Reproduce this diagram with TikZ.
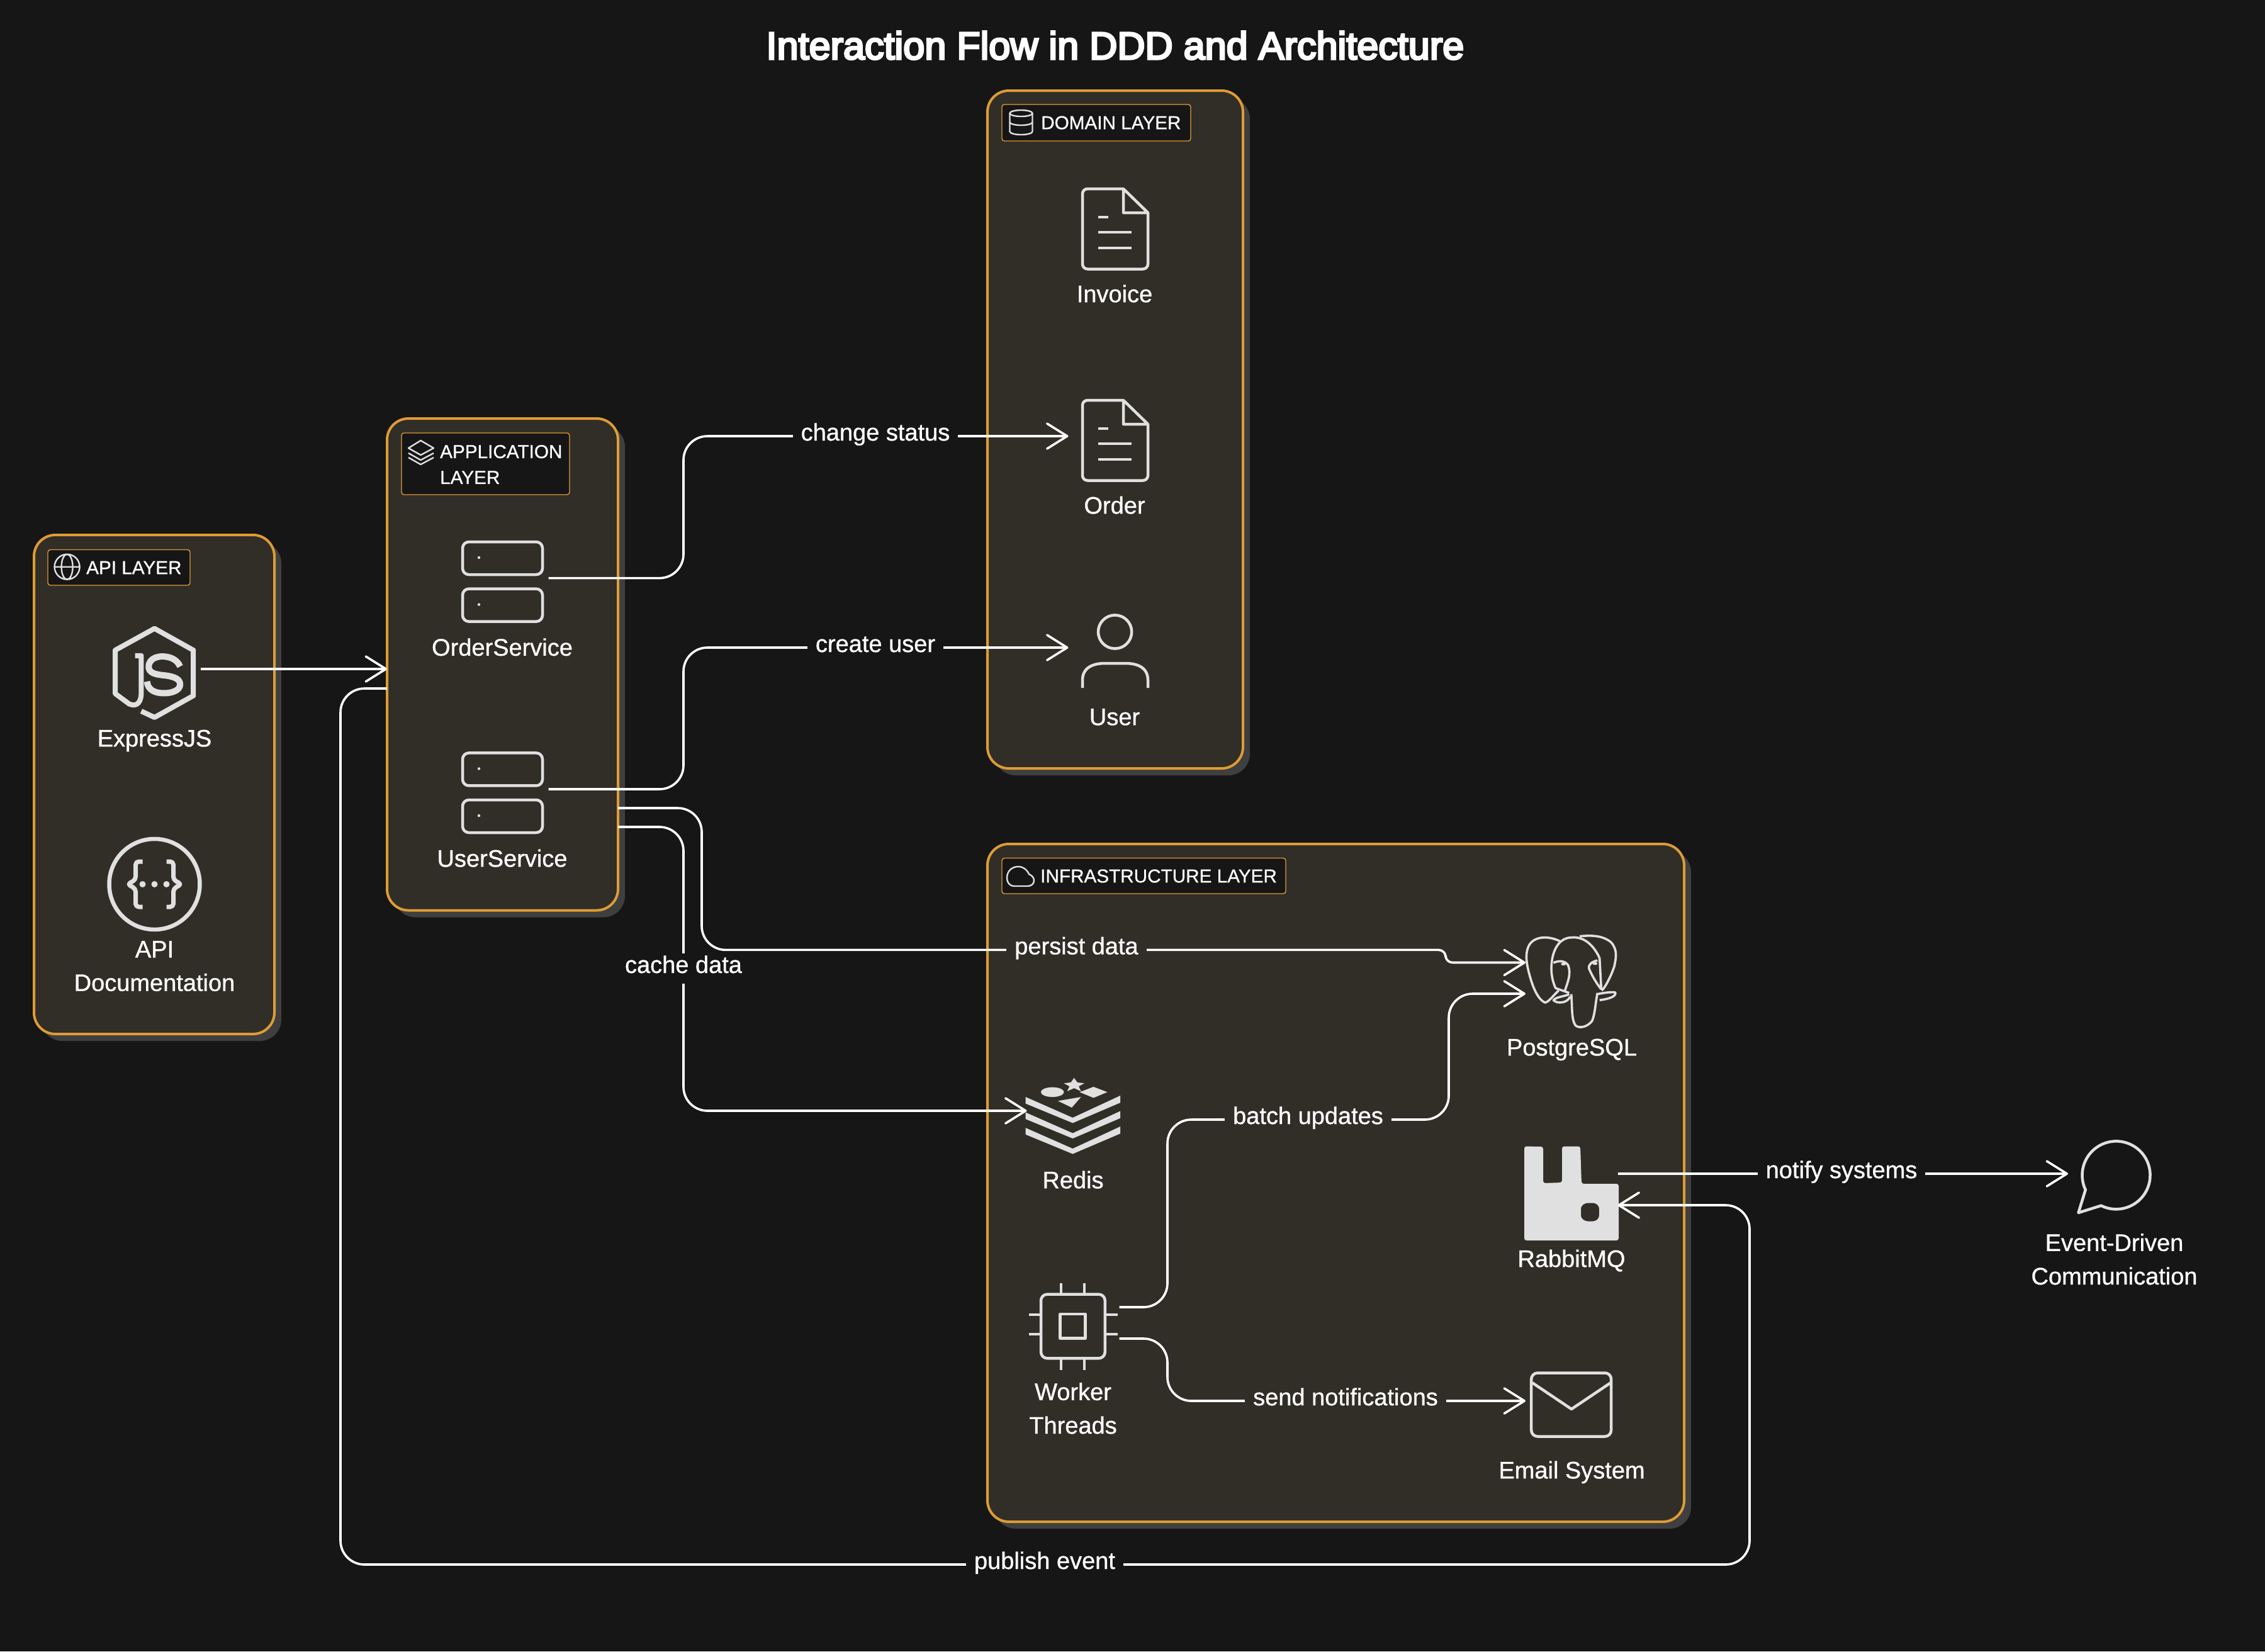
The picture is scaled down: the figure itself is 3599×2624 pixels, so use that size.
\documentclass[tikz,border=0pt]{standalone}
\usepackage{fontspec}
\setmainfont[FakeBold=0.8]{Liberation Sans}
\newfontfamily\titlefont[FakeBold=5]{Liberation Sans}
\usetikzlibrary{positioning,arrows.meta,shadows}
\definecolor{pagebg}{HTML}{161616}
\definecolor{layerbg}{HTML}{312E27}
\definecolor{layerline}{HTML}{DF9C35}
\definecolor{layershadow}{HTML}{3F3F3F}
\definecolor{iconline}{HTML}{E0E0E0}
\tikzset{
  layerbox/.style={draw=layerline, fill=layerbg, line width=4pt, rounded corners=34pt, inner sep=0pt, outer sep=0pt,
    drop shadow={shadow xshift=11pt, shadow yshift=-11pt, fill=layershadow, opacity=1}},
  tagbox/.style={draw=layerline, fill=pagebg, line width=1.4pt, rounded corners=4pt, inner sep=0pt, outer sep=0pt, anchor=north west},
  tagtext/.style={text=white, inner sep=0pt, anchor=west, align=left, font=\fontsize{29.7}{41}\selectfont},
  tagicon/.style={draw=iconline, line width=2.4pt},
  iconbox/.style={minimum width=147pt, minimum height=147pt, inner sep=0pt, outer sep=0pt},
  iconlabel/.style={text=white, inner sep=0pt, align=center, font=\fontsize{38}{53.3}\selectfont, execute at begin node=\strut},
  iconstroke/.style={draw=iconline, line width=4.5pt, line join=round},
  flow/.style={draw=white, line width=3.6pt, rounded corners=38pt},
  flowarrow/.style={flow, -{Straight Barb[length=32pt, width=40pt, line width=3.6pt, round]}},
  flowlabel/.style={fill=#1, text=white, inner xsep=13pt, inner ysep=4pt, text height=27pt, text depth=13pt, font=\fontsize{38}{50}\selectfont},
  pics/docicon/.style={code={
    \draw[iconstroke, rounded corners=8pt] (14,-57) -- (-51,-57) -- (-51,70.5) -- (53,70.5) -- (53,-19);
    \draw[iconstroke] (14,-57) -- (14,-19) -- (53,-19) -- cycle;
    \draw[iconstroke, line width=3.4pt] (-26,-12) -- (-10,-12) (-26,12) -- (27,12) (-26,37) -- (27,37);
  }},
  pics/usericon/.style={code={
    \draw[iconstroke] (0.6,-25) circle (26.6);
    \draw[iconstroke] (-51,64) -- (-51,52) .. controls (-51,32) and (-35,25) .. (-15,25) -- (17,25) .. controls (37,25) and (53,32) .. (53,52) -- (53,64);
  }},
  pics/servericon/.style={code={
    \foreach \ty in {-57.6,17} {
      \draw[iconstroke, rounded corners=10pt] (-63,\ty) rectangle (64,\ty+52);
      \fill[iconline] (-37,\ty+25) circle (2.2);
    }
  }},
  pics/jsicon/.style={code={
    \begin{scope}[x=.7015pt, y=-.6633pt, shift={(-350,-638)}]
      \draw[iconstroke, line width=8pt] (320,739) -- (350,754) -- (438,702) -- (438,593) -- (350,541) -- (261,593) -- (261,697) -- (293,722)
        .. controls (312,730) and (320,715) .. (320,695) -- (320,606) -- (306,606);
      \draw[iconstroke, line width=10pt, line join=round] (408,632) .. controls (400,612) and (380,608) .. (368,608) .. controls (345,608) and (335,622) .. (337,636)
        .. controls (340,652) and (365,652) .. (378,654) .. controls (395,657) and (408,662) .. (408,675) .. controls (408,690) and (388,696) .. (372,696) .. controls (350,696) and (335,688) .. (333,668);
    \end{scope}
  }},
  pics/swaggericon/.style={code={
    \draw[iconstroke, line width=6.5pt] (0,6) circle (72);
    \foreach \sx in {1,-1} {
      \draw[iconstroke, line width=7pt, rounded corners=5pt, xscale=\sx] (-19,-30) -- (-30,-30) -- (-30,-1) -- (-43,6) -- (-30,13) -- (-30,42) -- (-19,42);
    }
    \foreach \dx in {-19,0,19} {\fill[iconline] (\dx,6) circle (5);}
  }},
  pics/elephanticon/.style={code={
    \begin{scope}[x=.3333pt, y=-.3827pt, shift={(-592.5,-298)}, iconstroke, line width=3.6pt]
      \draw (535,145) .. controls (490,125) and (420,120) .. (390,160) .. controls (370,190) and (375,230) .. (385,265) .. controls (400,320) and (425,385) .. (465,400) .. controls (480,400) and (510,365) .. (530,350);
      \draw (725,215) .. controls (690,150) and (640,125) .. (590,130) .. controls (540,130) and (510,170) .. (500,215) .. controls (490,260) and (495,300) .. (515,340) -- (580,360);
      \draw (630,125) .. controls (680,120) and (740,120) .. (780,150) .. controls (810,180) and (805,210) .. (795,250) .. controls (780,290) and (750,340) .. (735,350);
      \draw (590,365) .. controls (595,420) and (590,470) .. (610,495) .. controls (630,510) and (670,500) .. (690,475) .. controls (705,440) and (705,400) .. (715,360);
      \draw (505,235) .. controls (530,225) and (560,225) .. (575,245) .. controls (590,280) and (575,310) .. (560,350);
      \draw (725,215) -- (733,345);
      \draw (715,225) .. controls (690,230) and (670,240) .. (675,260) .. controls (690,290) and (710,320) .. (733,345);
      \draw (580,365) .. controls (560,375) and (520,375) .. (505,390) .. controls (520,405) and (570,405) .. (585,375);
      \draw (715,365) .. controls (740,360) and (780,355) .. (800,358) .. controls (805,375) and (770,385) .. (725,390);
      \fill[iconline] (553,240) ellipse [x radius=12, y radius=6];
      \fill[iconline] (703,238) ellipse [x radius=12, y radius=6];
    \end{scope}
  }},
  pics/redisicon/.style={code={
    \begin{scope}[x=.7334pt, y=-.7015pt, shift={(-197.7,-634.3)}]
      \foreach \dy in {0,35,70} {
        \fill[iconline] (95,603+\dy) -- (197,650+\dy) -- (300,600+\dy) -- (300,616+\dy) -- (197,662+\dy) -- (95,618+\dy) -- cycle;
      }
      \fill[iconline] (200,560) -- (207,570) -- (222,572) -- (210,579) -- (215,590) -- (200,583) -- (185,590) -- (190,579) -- (178,572) -- (193,570) -- cycle;
      \fill[iconline] (153,592) ellipse [x radius=25, y radius=11];
      \fill[iconline] (212,592) -- (242,580) -- (272,592) -- (242,605) -- cycle;
      \fill[iconline] (165,612) -- (215,603) -- (195,627) -- cycle;
    \end{scope}
  }},
  pics/chipicon/.style={code={
    \draw[iconstroke, rounded corners=10pt] (-51,-45.4) rectangle (50.8,56.3);
    \draw[iconstroke] (-20.3,-14) rectangle (19.3,24.7);
    \draw[iconstroke, line width=3.6pt] (-18.9,-63) -- (-18.9,-45.4) (17.8,-63) -- (17.8,-45.4) (-18.9,56.3) -- (-18.9,75) (17.8,56.3) -- (17.8,75)
      (-70,-13) -- (-51,-13) (-70,18) -- (-51,18) (50.8,-13) -- (70.6,-13) (50.8,18) -- (70.6,18);
  }},
  pics/rabbiticon/.style={code={
    \fill[iconline, even odd rule, rounded corners=3.5pt] (-75,-68.5) -- (-45,-68) -- (-45,-10) -- (-15,-11) -- (-15,-68.5) -- (14,-68.5) -- (16,-9) -- (75,-9) -- (75,81) -- (-75,81) -- cycle
      (22,21.5) -- (38,21.5) -- (44,27) -- (44,45) -- (38,50.5) -- (22,50.5) -- (15,45) -- (15,27) -- cycle;
  }},
  pics/mailicon/.style={code={
    \draw[iconstroke, rounded corners=10pt] (-64.3,-44.5) rectangle (62.6,56.5);
    \draw[iconstroke] (-63,-29) -- (-0.5,13) -- (62,-29);
  }},
  pics/chaticon/.style={code={
    \draw[iconstroke] (-21,50.7) arc [start angle=116.4, end angle=-205.4, radius=54] -- (-57,62) -- cycle;
  }}
}
\begin{document}
\begin{tikzpicture}[x=1pt, y=-1pt]
\useasboundingbox (0,0) rectangle (3599,2624);
\fill[pagebg] (0,0) rectangle (3599,2624);
\node[text=white, inner sep=0pt, anchor=base, font=\titlefont\fontsize{61.2}{70}\selectfont] (diagramtitle) at (1772,94) {Interaction Flow in DDD and Architecture};

\node[layerbox, minimum width=382pt, minimum height=793pt] (apilayer) at (245,1246.5) {};
\node[layerbox, minimum width=367pt, minimum height=781.5pt] (applayer) at (798.5,1055.75) {};
\node[layerbox, minimum width=406pt, minimum height=1077pt] (domainlayer) at (1772,682.5) {};
\node[layerbox, minimum width=1107pt, minimum height=1077pt] (infralayer) at (2122.5,1879.5) {};

\node[tagbox, minimum width=226pt, minimum height=56.5pt] (apitag) at (76,873.5) {};
\node[tagbox, minimum width=267pt, minimum height=98pt] (apptag) at (638,688) {};
\node[tagbox, minimum width=300pt, minimum height=58pt] (domaintag) at (1592,166) {};
\node[tagbox, minimum width=451pt, minimum height=56.5pt] (infratag) at (1592,1363.5) {};
\node[tagtext] (apitagtext) at (137,902) {API LAYER};
\node[tagtext] (apptagtext) at (699,738) {APPLICATION\\LAYER};
\node[tagtext] (domaintagtext) at (1654,195) {DOMAIN LAYER};
\node[tagtext] (infratagtext) at (1653,1392) {INFRASTRUCTURE LAYER};

\draw[tagicon] (106.6,900.7) circle (20) (106.6,900.7) ellipse [x radius=9, y radius=20] (86.6,900.7) -- (126.6,900.7);
\draw[tagicon, line join=round] (668.5,700) -- (689,712) -- (668.5,723) -- (649,712) -- cycle;
\draw[tagicon, line join=round] (649,720) -- (668.5,731) -- (689,720) (649,727) -- (668.5,738) -- (689,727);
\draw[tagicon] (1622.5,180) ellipse [x radius=18, y radius=5];
\draw[tagicon] (1604.5,180) -- (1604.5,209) arc [start angle=180, end angle=0, x radius=18, y radius=5] -- (1640.5,180);
\draw[tagicon] (1604.5,194) arc [start angle=180, end angle=0, x radius=18, y radius=5];
\draw[tagicon] (1612,1408) .. controls (1604,1408) and (1600,1402) .. (1600,1395) .. controls (1600,1384) and (1608,1377) .. (1618,1377) .. controls (1626,1377) and (1632,1382) .. (1635,1389) .. controls (1640,1391) and (1643,1395) .. (1643,1399) .. controls (1643,1404) and (1639,1408) .. (1633,1408) -- cycle;

\node[iconbox] (expressjs) at (245.5,1063) {};
\node[iconbox] (apidocs) at (245.5,1399) {};
\node[iconbox] (orderservice) at (798,918.6) {};
\node[iconbox] (userservice) at (798,1254) {};
\node[iconbox] (invoice) at (1771,357) {};
\node[iconbox] (order) at (1771,693) {};
\node[iconbox] (user) at (1771,1029) {};
\node[iconbox] (postgres) at (2497.5,1554) {};
\node[iconbox] (redis) at (1705,1765) {};
\node[iconbox] (rabbitmq) at (2497,1890) {};
\node[iconbox] (workers) at (1705,2102) {};
\node[iconbox] (email) at (2497.5,2226) {};
\node[iconbox] (events) at (3359.5,1865) {};

\pic at (expressjs.center) {jsicon};
\pic at (apidocs.center) {swaggericon};
\pic at (orderservice.center) {servericon};
\pic at (userservice.center) {servericon};
\pic at (invoice.center) {docicon};
\pic at (order.center) {docicon};
\pic at (user.center) {usericon};
\pic at (postgres.center) {elephanticon};
\pic at (redis.center) {redisicon};
\pic at (rabbitmq.center) {rabbiticon};
\pic at (workers.center) {chipicon};
\pic at (email.center) {mailicon};
\pic at (events.center) {chaticon};

\node[iconlabel, below=85.7pt of expressjs.center] (expressjslabel) {ExpressJS};
\node[iconlabel, below=96pt of apidocs.center] (apidocslabel) {API\\Documentation};
\node[iconlabel, below=85.7pt of orderservice.center] (orderservicelabel) {OrderService};
\node[iconlabel, below=85.7pt of userservice.center] (userservicelabel) {UserService};
\node[iconlabel, below=85.7pt of invoice.center] (invoicelabel) {Invoice};
\node[iconlabel, below=85.7pt of order.center] (orderlabel) {Order};
\node[iconlabel, below=85.7pt of user.center] (userlabel) {User};
\node[iconlabel, below=85.7pt of postgres.center] (postgreslabel) {PostgreSQL};
\node[iconlabel, below=85.7pt of redis.center] (redislabel) {Redis};
\node[iconlabel, below=85.7pt of rabbitmq.center] (rabbitmqlabel) {RabbitMQ};
\node[iconlabel, below=95pt of workers.center] (workerslabel) {Worker\\Threads};
\node[iconlabel, below=85.7pt of email.center] (emaillabel) {Email System};
\node[iconlabel, below=95pt of events.center] (eventslabel) {Event-Driven\\Communication};

\draw[flowarrow] (expressjs.east) -- (expressjs.east -| applayer.west);
\draw[flowarrow] (orderservice.east) -| (1086,693) -- (order.west);
\draw[flowarrow] (userservice.east) -| (1086,1029) -- (user.west);
\draw[flowarrow] ([yshift=-228.25pt]applayer.east) -- (1115,1284) -- (1115,1509.4) -- (2200,1509.4) [rounded corners=11pt] -- (2297,1509.4) -- (2297,1529.5) -- ([yshift=24.5pt]postgres.west);
\draw[flowarrow] ([yshift=-258.25pt]applayer.east) -| (1086,1765) -- (redis.west);
\draw[flowarrow] ([yshift=25pt]workers.east) -| (1855,1779) -| (2302,1579) -- ([yshift=-25pt]postgres.west);
\draw[flowarrow] ([yshift=-25pt]workers.east) -| (1855,2226) -- (email.west);
\draw[flowarrow] ([yshift=25pt]rabbitmq.east) -- (events.west);
\draw[flowarrow] ([yshift=-38.25pt]applayer.west) -| (541,2486) -| (2780,1915) -- ([yshift=-25pt]rabbitmq.east);

\node[flowlabel=pagebg] (changestatus) at (1391,693) {change status};
\node[flowlabel=pagebg] (createuser) at (1391,1029) {create user};
\node[flowlabel=layerbg] (persistdata) at (1710.5,1509.4) {persist data};
\node[flowlabel=pagebg] (cachedata) at (1086,1539) {cache data};
\node[flowlabel=layerbg] (batchupdates) at (2078.5,1779) {batch updates};
\node[flowlabel=layerbg] (sendnotifications) at (2138,2226) {send notifications};
\node[flowlabel=pagebg] (notifysystems) at (2926,1865) {notify systems};
\node[flowlabel=pagebg] (publishevent) at (1660,2486) {publish event};
\end{tikzpicture}
\end{document}
